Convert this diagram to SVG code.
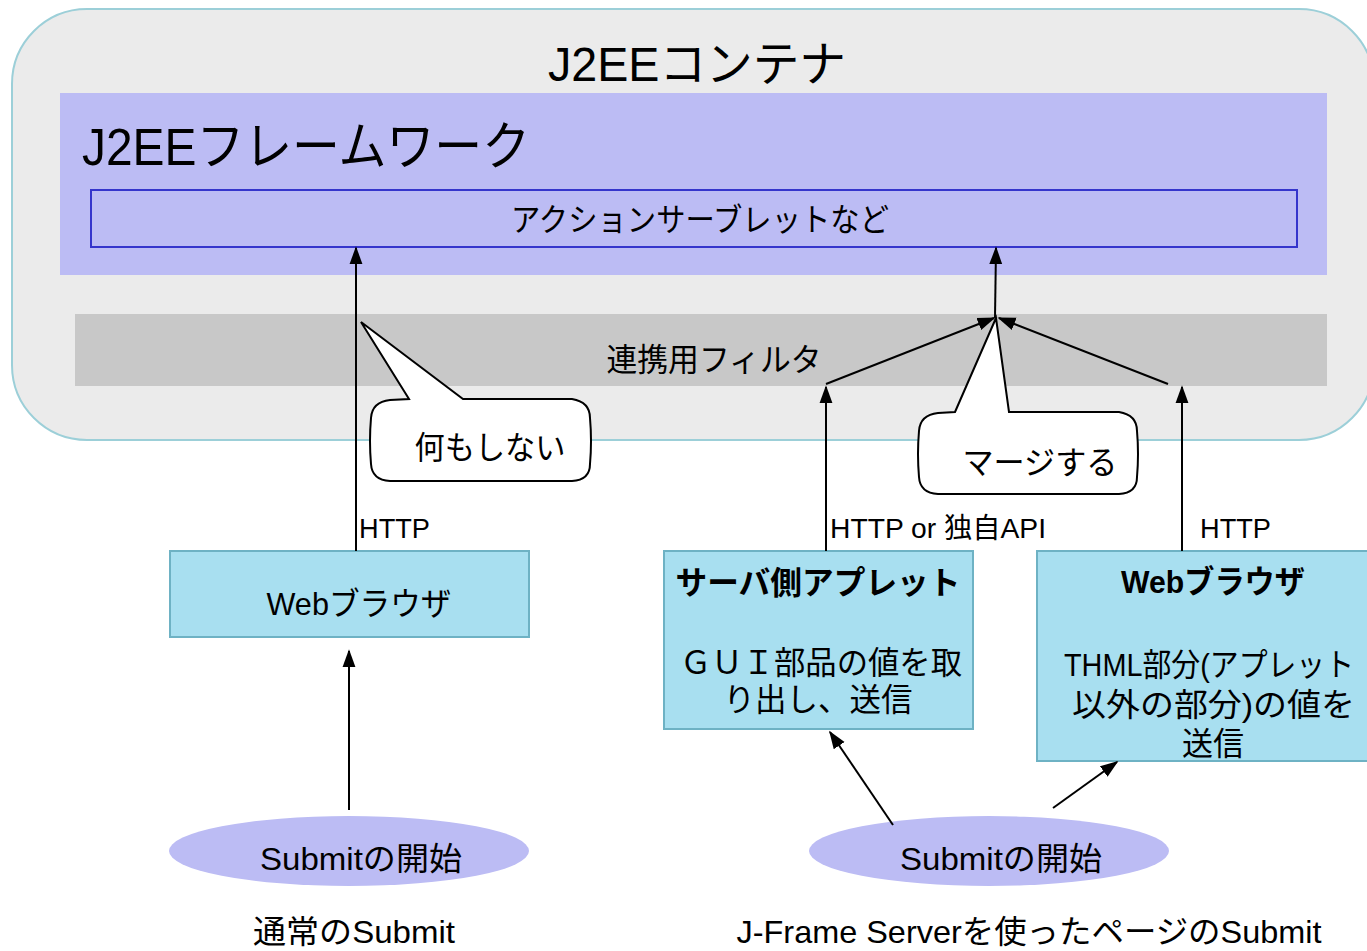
<svg xmlns="http://www.w3.org/2000/svg" width="1367" height="951" viewBox="0 0 1367 951">
<style>
text{font-family:"Liberation Sans","Noto Sans CJK JP",sans-serif;fill:#000}
.t32{font-size:32px}
.t28{font-size:28px}
.b{font-weight:bold}
.box{fill:#a8dff0;stroke:#6eb2c4;stroke-width:2}
.ell{fill:#bcbcf4}
.ln{stroke:#000;stroke-width:2;fill:none}
.call{fill:#fff;stroke:#000;stroke-width:2}
</style>
<defs>
<marker id="ah" markerUnits="userSpaceOnUse" markerWidth="18" markerHeight="22" refX="20" refY="8" orient="auto" viewBox="0 0 22 16">
<path d="M0,0 L22,8 L0,16 Z" fill="#000"/>
</marker>
</defs>
<g id="container">
<rect x="12" y="9" width="1362" height="431" rx="75" ry="75" fill="#ebebeb" stroke="#9ccfd8" stroke-width="2"/>
<text x="697" y="81" text-anchor="middle" font-size="48" textLength="298" lengthAdjust="spacingAndGlyphs">J2EEコンテナ</text>
</g>
<g id="framework">
<rect x="60" y="93" width="1267" height="182" fill="#bcbcf4"/>
<text x="82" y="165" font-size="52" textLength="448" lengthAdjust="spacingAndGlyphs">J2EEフレームワーク</text>
</g>
<g id="action">
<rect x="91" y="190" width="1206" height="57" fill="#bcbcf4" stroke="#3535cc" stroke-width="2"/>
<text x="700" y="231" text-anchor="middle" class="t32" textLength="378" lengthAdjust="spacingAndGlyphs">アクションサーブレットなど</text>
</g>
<g id="filter">
<rect x="75" y="314" width="1252" height="72" fill="#c8c8c8"/>
<text x="714" y="371" text-anchor="middle" class="t32" textLength="215" lengthAdjust="spacingAndGlyphs">連携用フィルタ</text>
</g>
<g id="browser-left">
<rect class="box" x="170" y="551" width="359" height="86"/>
<text x="359" y="615" text-anchor="middle" class="t32" textLength="185" lengthAdjust="spacingAndGlyphs">Webブラウザ</text>
</g>
<g id="applet">
<rect class="box" x="664" y="551" width="309" height="178"/>
<text x="818" y="594" text-anchor="middle" class="t32 b" textLength="285" lengthAdjust="spacingAndGlyphs">サーバ側アプレット</text>
<text x="821" y="674" text-anchor="middle" class="t32" textLength="282" lengthAdjust="spacingAndGlyphs">ＧＵＩ部品の値を取</text>
<text x="818" y="711" text-anchor="middle" class="t32" textLength="189" lengthAdjust="spacingAndGlyphs">り出し、送信</text>
</g>
<g id="browser-right">
<rect class="box" x="1037" y="551" width="340" height="210"/>
<text x="1213" y="593" text-anchor="middle" class="t32 b" textLength="184" lengthAdjust="spacingAndGlyphs">Webブラウザ</text>
<text x="1064" y="676" class="t32" textLength="290" lengthAdjust="spacingAndGlyphs">THML部分(アプレット</text>
<text x="1072" y="716" class="t32" textLength="283" lengthAdjust="spacingAndGlyphs">以外の部分)の値を</text>
<text x="1213" y="755" text-anchor="middle" class="t32" textLength="62" lengthAdjust="spacingAndGlyphs">送信</text>
</g>
<g id="submit-left">
<ellipse class="ell" cx="349" cy="851" rx="180" ry="35"/>
<text x="361" y="870" text-anchor="middle" class="t32" textLength="202" lengthAdjust="spacingAndGlyphs">Submitの開始</text>
</g>
<g id="submit-right">
<ellipse class="ell" cx="989" cy="851" rx="180" ry="35"/>
<text x="1001" y="870" text-anchor="middle" class="t32" textLength="202" lengthAdjust="spacingAndGlyphs">Submitの開始</text>
</g>
<g id="connectors">
<line class="ln" x1="356" y1="551" x2="356" y2="248" marker-end="url(#ah)"/>
<line class="ln" x1="349" y1="810" x2="349" y2="651" marker-end="url(#ah)"/>
<line class="ln" x1="826" y1="551" x2="826" y2="387" marker-end="url(#ah)"/>
<line class="ln" x1="1182" y1="551" x2="1182" y2="387" marker-end="url(#ah)"/>
<line class="ln" x1="826" y1="384" x2="994" y2="318" marker-end="url(#ah)"/>
<line class="ln" x1="1168" y1="384" x2="999" y2="318" marker-end="url(#ah)"/>
<line class="ln" x1="995" y1="318" x2="996" y2="248" marker-end="url(#ah)"/>
<line class="ln" x1="893" y1="825" x2="830" y2="732" marker-end="url(#ah)"/>
<line class="ln" x1="1053" y1="808" x2="1117" y2="762" marker-end="url(#ah)"/>
<text x="359" y="538" class="t28" textLength="71" lengthAdjust="spacingAndGlyphs">HTTP</text>
<text x="830" y="538" class="t28" textLength="216" lengthAdjust="spacingAndGlyphs">HTTP or 独自API</text>
<text x="1200" y="538" class="t28" textLength="71" lengthAdjust="spacingAndGlyphs">HTTP</text>
</g>
<g id="callout-nothing">
<path class="call" d="M409,399 L361,322 L463,399 L572,399 Q590,402 590,418 Q592,441 590,464 Q590,480 572,481 L390,481 Q372,480 371,464 Q369,441 371,418 Q372,402 390,400 Z"/>
<text x="490" y="459" text-anchor="middle" class="t32" textLength="151" lengthAdjust="spacingAndGlyphs">何もしない</text>
</g>
<g id="callout-merge">
<path class="call" d="M955,412 L996,318 L1009,412 L1119,412 Q1137,415 1137,431 Q1139,454 1137,477 Q1137,493 1119,494 L938,494 Q920,493 919,477 Q917,454 919,431 Q920,415 938,413 Z"/>
<text x="1040" y="474" text-anchor="middle" class="t32" textLength="155" lengthAdjust="spacingAndGlyphs">マージする</text>
</g>
<g id="captions">
<text x="354" y="943" text-anchor="middle" class="t32" textLength="202" lengthAdjust="spacingAndGlyphs">通常のSubmit</text>
<text x="1029" y="943" text-anchor="middle" class="t32" textLength="585" lengthAdjust="spacingAndGlyphs">J-Frame Serverを使ったページのSubmit</text>
</g>
</svg>
